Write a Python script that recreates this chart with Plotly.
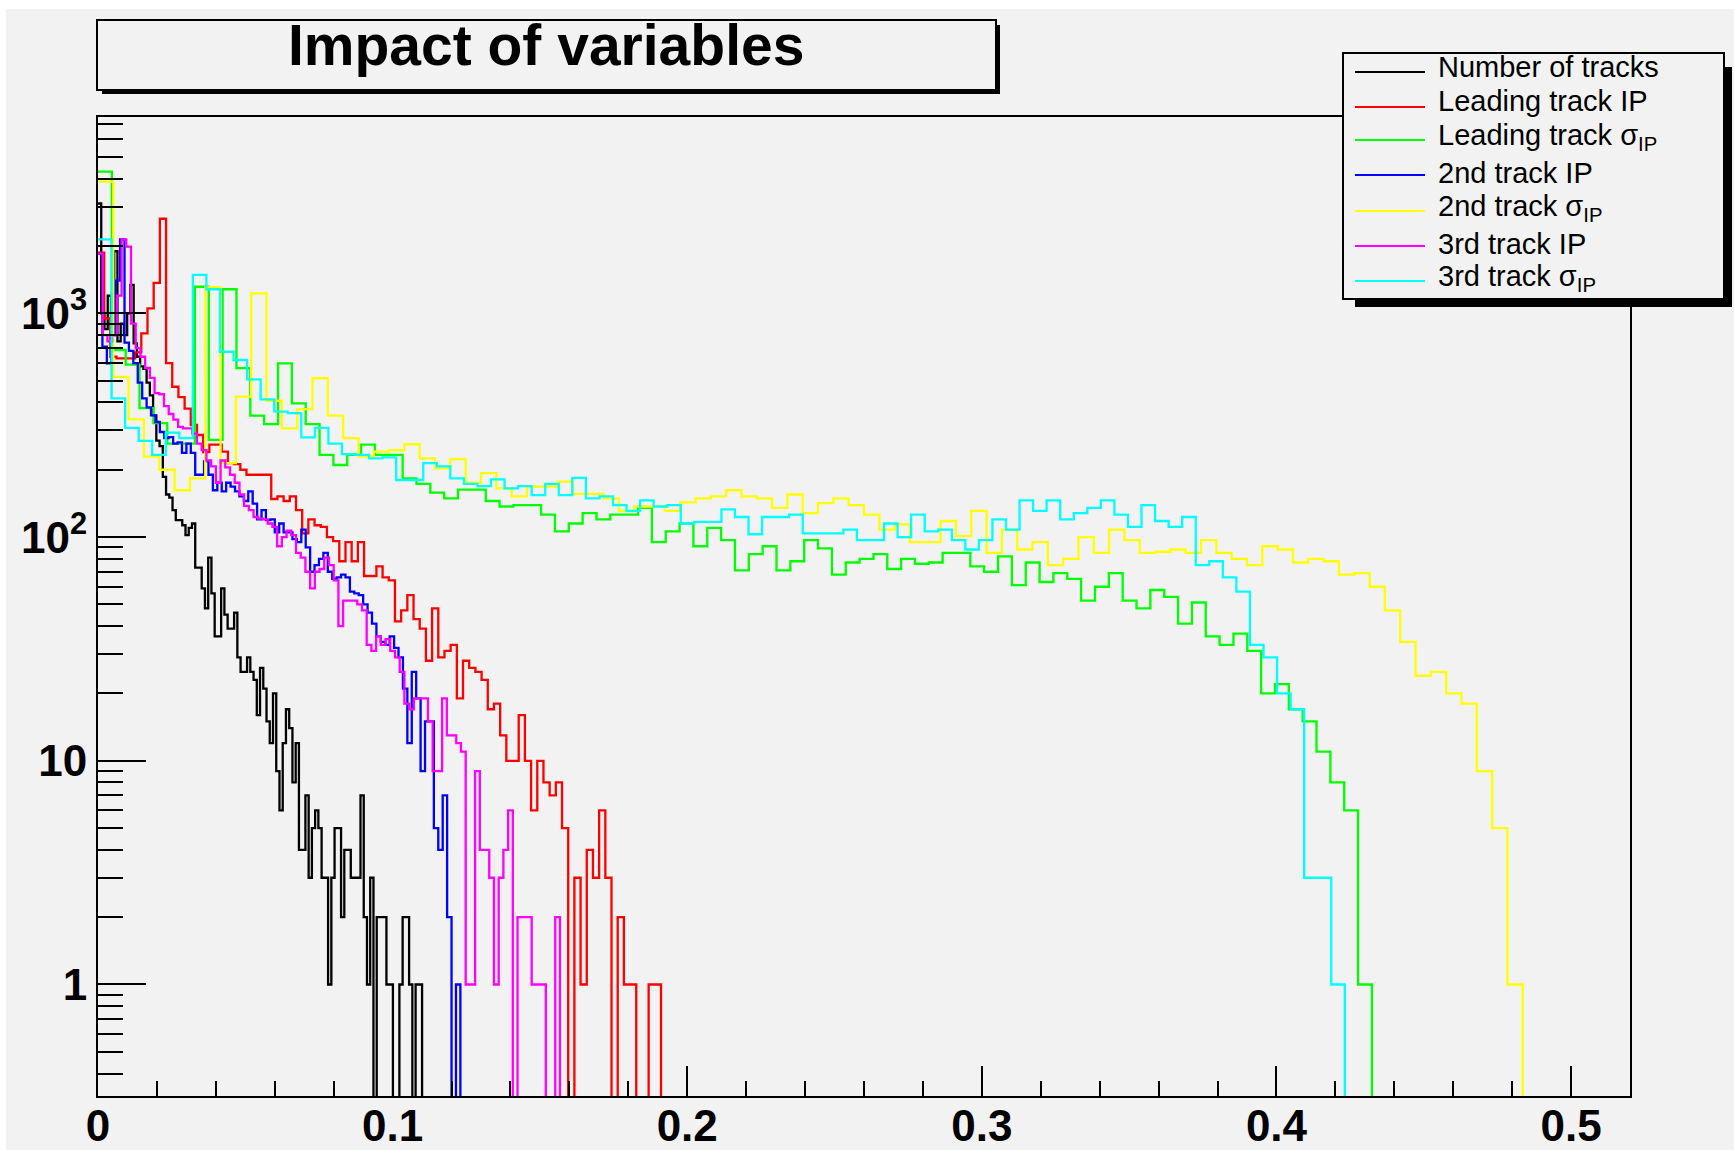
import plotly.graph_objects as go

# ---------------- data ----------------
series_names = [
    "Number of tracks",
    "Leading track IP",
    "Leading track σ<sub>IP</sub>",
    "2nd track IP",
    "2nd track σ<sub>IP</sub>",
    "3rd track IP",
    "3rd track σ<sub>IP</sub>",
]
series_colors = ["#000000", "#ff0000", "#00ff00", "#0000ff", "#ffff00", "#ff00ff", "#00ffff"]
bin_widths = [0.0011, 0.0021, 0.0047, 0.0015, 0.0052, 0.0016, 0.0046]

counts_ntracks = [
    3100, 1000, 850, 1200, 800, 1900, 750, 900, 800, 1000,
    1340, 735, 640, 580, 565, 490, 430, 350, 270, 255,
    186, 155, 150, 132, 119, 119, 113, 102, 110, 115,
    73, 73, 59, 48, 81, 56, 36, 36, 59, 45,
    39, 39, 46, 29, 25, 25, 29, 25, 23, 16,
    26, 21, 15, 12, 20, 9, 6, 12, 17, 14,
    8, 12, 4, 4, 7, 3, 5, 6, 5, 3,
    3, 1, 3, 5, 5, 2, 4, 4, 3, 3,
    3, 7, 2, 1, 3, 0, 2, 2, 2, 1,
    1, 0, 0, 1, 2, 2, 1, 0, 1, 1,
]
counts_lead_ip = [
    1870, 950, 640, 630, 630, 630, 670, 814, 1054, 1368,
    2650, 600, 470, 422, 375, 317, 286, 240, 259, 259,
    241, 214, 212, 200, 190, 190, 190, 190, 148, 152,
    145, 152, 132, 104, 120, 113, 111, 100, 96, 78,
    95, 78, 95, 67, 67, 74, 66, 64, 42, 47,
    55, 43, 39, 28, 48, 29, 31, 33, 19, 28,
    26, 25, 23, 17, 18, 13, 10, 10, 16, 10,
    6, 10, 8, 7, 8, 5, 0, 3, 1, 4,
    3, 6, 3, 0, 2, 1, 1, 0, 0, 1,
    1,
]
counts_lead_sig = [
    4300, 686, 590, 377, 323, 262, 262, 1316, 272, 1282,
    569, 349, 320, 598, 396, 320, 233, 210, 233, 259,
    233, 233, 183, 173, 158, 149, 163, 163, 145, 137,
    139, 139, 126, 106, 115, 128, 120, 126, 126, 135,
    95, 106, 115, 91, 110, 97, 71, 84, 91, 71,
    78, 97, 89, 68, 77, 80, 84, 72, 80, 76,
    77, 85, 85, 74, 70, 82, 61, 77, 63, 69,
    65, 52, 60, 69, 52, 48, 58, 54, 41, 51,
    36, 33, 37, 31, 20, 22, 17, 15, 11, 8,
    6, 1,
]
counts_2nd_ip = [
    1850, 710, 598, 800, 1400, 2140, 740, 680, 600, 490,
    417, 380, 350, 327, 295, 277, 280, 262, 265, 238,
    262, 238, 190, 190, 218, 190, 162, 175, 160, 175,
    168, 160, 152, 145, 160, 141, 120, 132, 119, 120,
    105, 115, 105, 105, 98, 95, 108, 90, 70, 75,
    80, 85, 70, 65, 66, 68, 66, 57, 56, 55,
    50, 46, 41, 36, 34, 33, 36, 32, 29, 21,
    12, 25, 19, 9, 15, 15, 5, 4, 7, 2,
    0, 1,
]
counts_2nd_sig = [
    3880, 520, 336, 229, 200, 162, 183, 1309, 214, 425,
    1230, 407, 306, 373, 513, 349, 277, 229, 241, 245,
    260, 225, 203, 223, 175, 193, 165, 152, 168, 168,
    177, 156, 156, 149, 131, 137, 137, 131, 143, 149,
    152, 162, 152, 149, 135, 155, 128, 142, 149, 139,
    126, 108, 114, 95, 95, 118, 101, 131, 85, 108,
    88, 95, 75, 80, 100, 85, 108, 97, 85, 86,
    88, 85, 97, 85, 80, 75, 91, 88, 77, 80,
    78, 68, 69, 60, 47, 34, 24, 25, 20, 18,
    9, 5, 1,
]
counts_3rd_ip = [
    1850, 800, 750, 800, 1200, 2140, 1990, 900, 700, 640,
    570, 515, 440, 435, 385, 355, 335, 311, 306, 306,
    290, 262, 245, 220, 207, 175, 220, 205, 190, 175,
    155, 138, 132, 123, 121, 120, 115, 111, 91, 100,
    107, 102, 85, 81, 70, 59, 70, 72, 81, 75,
    64, 40, 52, 52, 52, 50, 47, 33, 31, 36,
    33, 35, 31, 29, 25, 18, 17, 19, 19, 19,
    15, 9, 9, 19, 13, 13, 12, 11, 1, 1,
    9, 4, 4, 3, 1, 3, 4, 6, 0, 2,
    2, 2, 1, 1, 1, 0, 0, 2,
]
counts_3rd_sig = [
    2144, 417, 308, 269, 233, 293, 277, 1486, 1282, 674,
    619, 507, 413, 364, 358, 279, 308, 262, 235, 233,
    225, 227, 180, 180, 214, 207, 183, 173, 169, 181,
    165, 169, 154, 173, 154, 184, 149, 152, 139, 131,
    146, 137, 139, 115, 117, 117, 133, 123, 103, 123,
    123, 126, 104, 104, 104, 108, 97, 97, 115, 100,
    126, 106, 108, 97, 88, 97, 120, 108, 146, 131,
    146, 120, 128, 135, 146, 126, 111, 139, 118, 111,
    123, 75, 78, 66, 57, 33, 29, 20, 17, 3,
    3, 1,
]
series_counts = [counts_ntracks, counts_lead_ip, counts_lead_sig, counts_2nd_ip,
                 counts_2nd_sig, counts_3rd_ip, counts_3rd_sig]

x_tick_vals = [0, 0.1, 0.2, 0.3, 0.4, 0.5]
x_tick_text = ["0", "0.1", "0.2", "0.3", "0.4", "0.5"]
y_tick_vals = [1, 10, 100, 1000]
y_tick_text = ["1", "10", "10<sup>2</sup>", "10<sup>3</sup>"]
y_minor_vals = [0.4, 0.5, 0.6, 0.7, 0.8, 0.9,
                2, 3, 4, 5, 6, 7, 8, 9,
                20, 30, 40, 50, 60, 70, 80, 90,
                200, 300, 400, 500, 600, 700, 800, 900,
                2000, 3000, 4000, 5000, 6000, 7000]
title_text = "Impact of variables"

# ---------------- figure ----------------
W, H = 1734, 1150
ML, MR, MT, MB = 98, 104, 117, 54
PW, PH = W - ML - MR, H - MT - MB
BG = "#f2f2f2"
FLOOR = 0.01  # empty bins drop below the frame, as in ROOT


def px(x):
    return (x - ML) / PW


def py(y):
    return (H - MB - y) / PH


fig = go.Figure()
for name, color, width, counts in zip(series_names, series_colors, bin_widths, series_counts):
    edges = [i * width for i in range(len(counts) + 1)]
    ys = [c if c > 0 else FLOOR for c in counts] + [FLOOR]
    fig.add_trace(go.Scatter(
        x=edges, y=ys, mode="lines", line=dict(color=color, width=2.3, shape="hv"),
        name=name, showlegend=False, hoverinfo="skip",
    ))

tick_font = dict(family="Liberation Sans, Arial, sans-serif", size=44, color="black", weight="bold")

fig.update_xaxes(
    range=[0, 0.52], tickmode="array", tickvals=x_tick_vals, ticktext=x_tick_text,
    ticks="inside", ticklen=30, tickwidth=2, tickcolor="black",
    minor=dict(dtick=0.02, tick0=0, ticks="inside", ticklen=15, tickwidth=2, tickcolor="black"),
    showline=True, linewidth=2, linecolor="black", mirror=True,
    showgrid=False, zeroline=False, tickfont=tick_font, automargin=False,
    ticklabelstandoff=-10,
)
fig.update_yaxes(
    type="log", range=[-0.4985, 3.878], tickmode="array", tickvals=y_tick_vals, ticktext=y_tick_text,
    ticks="inside", ticklen=48, tickwidth=2, tickcolor="black",
    minor=dict(tickmode="array", tickvals=y_minor_vals, ticks="inside", ticklen=25,
               tickwidth=2, tickcolor="black"),
    showline=True, linewidth=2, linecolor="black", mirror=True,
    showgrid=False, zeroline=False, tickfont=tick_font, automargin=False,
)

shapes = []
# canvas (white strip at top/left as in the picture)
shapes.append(dict(type="rect", xref="paper", yref="paper", layer="below",
                   x0=px(6), x1=px(W), y0=py(9), y1=py(H), fillcolor=BG, line=dict(width=0)))
# title pave with shadow
shapes.append(dict(type="rect", xref="paper", yref="paper", layer="above",
                   x0=px(102), x1=px(1000), y0=py(25), y1=py(94), fillcolor="black", line=dict(width=0)))
shapes.append(dict(type="rect", xref="paper", yref="paper", layer="above",
                   x0=px(97), x1=px(996), y0=py(20), y1=py(90), fillcolor=BG,
                   line=dict(color="black", width=2)))
# legend pave with shadow
shapes.append(dict(type="rect", xref="paper", yref="paper", layer="above",
                   x0=px(1355), x1=px(1732), y0=py(67), y1=py(307), fillcolor="black", line=dict(width=0)))
shapes.append(dict(type="rect", xref="paper", yref="paper", layer="above",
                   x0=px(1343), x1=px(1724), y0=py(53), y1=py(299), fillcolor=BG,
                   line=dict(color="black", width=2)))

legend_line_y = [72, 107, 140, 175, 211, 246, 281]
legend_text_y = [66.5, 100.5, 136.5, 172.5, 208.5, 243.5, 277.5]
annotations = []
for name, color, ly, ty in zip(series_names, series_colors, legend_line_y, legend_text_y):
    shapes.append(dict(type="line", xref="paper", yref="paper", layer="above",
                       x0=px(1355), x1=px(1425), y0=py(ly), y1=py(ly),
                       line=dict(color=color, width=2)))
    annotations.append(dict(
        xref="paper", yref="paper", x=px(1436), y=py(ty), xanchor="left", yanchor="middle",
        text=name, showarrow=False,
        font=dict(family="Liberation Sans, Arial, sans-serif", size=29, color="black"),
    ))

annotations.append(dict(
    xref="paper", yref="paper", x=px(546), y=py(45), xanchor="center", yanchor="middle",
    text=title_text, showarrow=False,
    font=dict(family="Liberation Sans, Arial, sans-serif", size=57, color="black", weight="bold"),
))

fig.update_layout(
    width=W, height=H, autosize=False,
    margin=dict(l=ML, r=MR, t=MT, b=MB, pad=0, autoexpand=False),
    paper_bgcolor="white", plot_bgcolor=BG,
    shapes=shapes, annotations=annotations, showlegend=False,
)

fig.write_html("out.html")
